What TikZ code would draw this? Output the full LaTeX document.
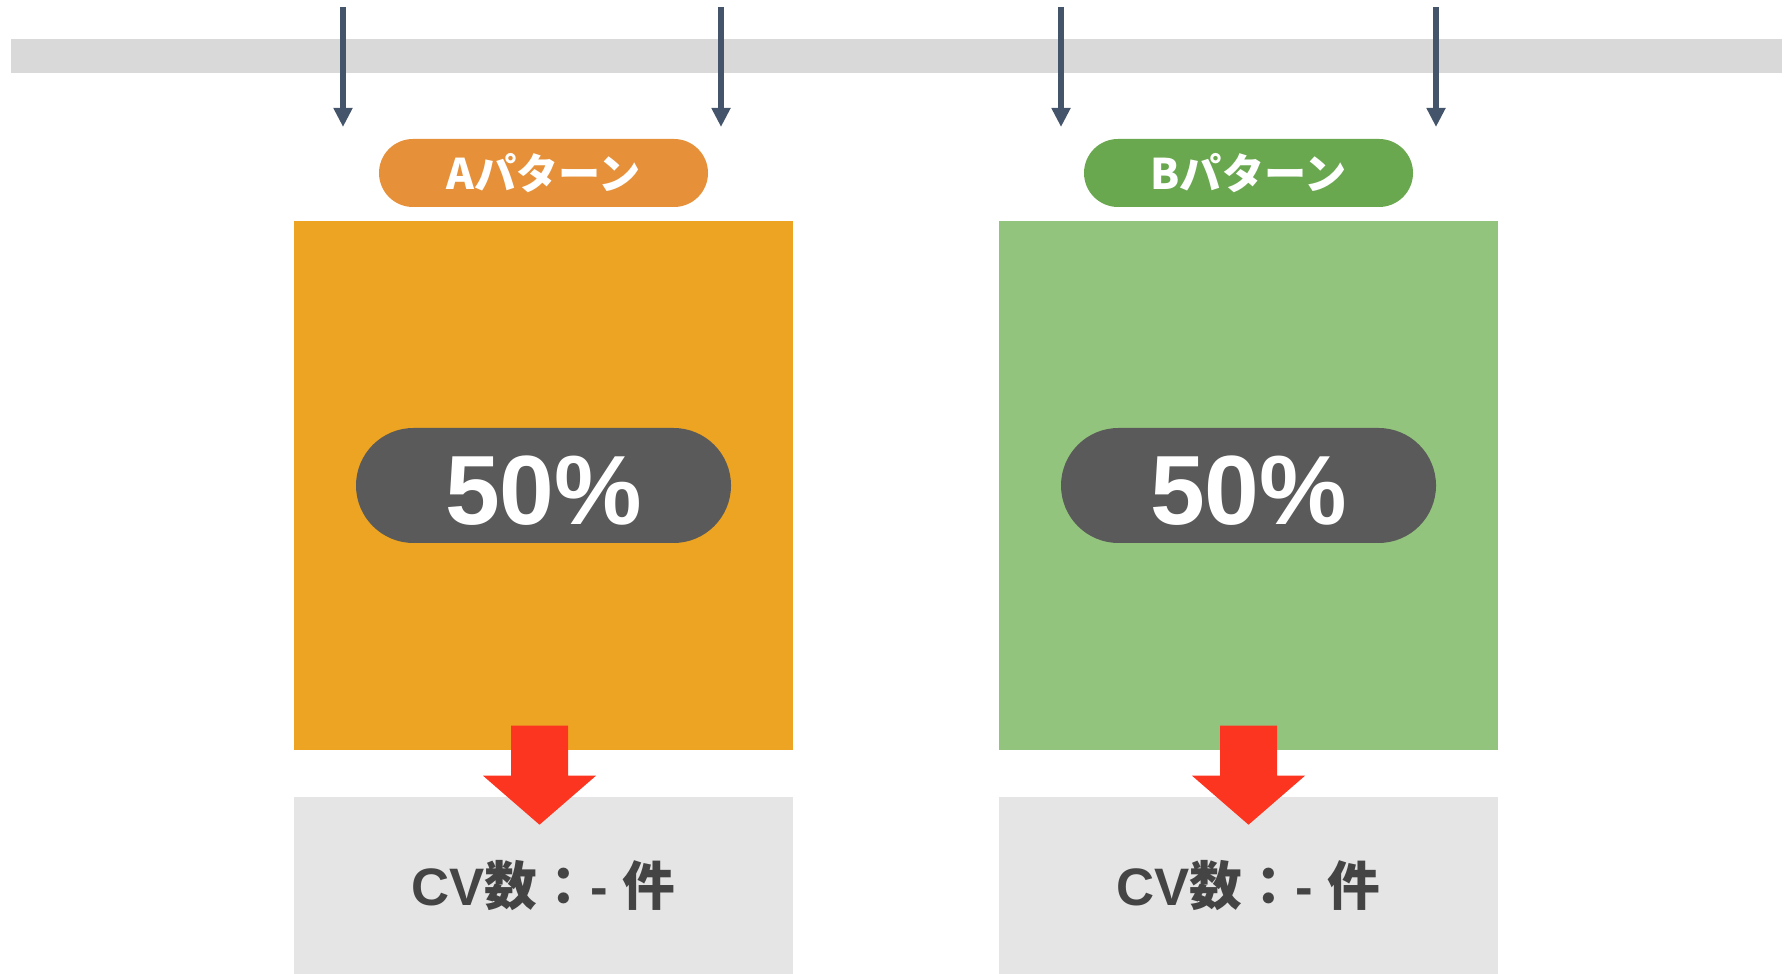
\documentclass[tikz,border=0pt]{standalone}
\usepackage{fontspec}
\setmainfont{Liberation Sans}
\newfontfamily\jpfont{Noto Sans CJK JP}
\usepackage{tikz}
\usetikzlibrary{calc}
\usetikzlibrary{arrows.meta}
\usetikzlibrary{positioning}
\definecolor{bandgray}{HTML}{D9D9D9}
\definecolor{tickblue}{HTML}{44546A}
\definecolor{tagorange}{HTML}{E6913A}
\definecolor{boxorange}{HTML}{ECA422}
\definecolor{taggreen}{HTML}{6AA84F}
\definecolor{boxgreen}{HTML}{93C47D}
\definecolor{rategray}{HTML}{5A5A5A}
\definecolor{flowred}{HTML}{FC3520}
\definecolor{cvgray}{HTML}{E5E5E5}
\definecolor{cvtext}{HTML}{444444}
\newcommand{\jp}[1]{{\jpfont\bfseries #1}}
\tikzset{>={Triangle[width=0.18cm, length=0.19cm]}}
\tikzstyle{split} = [->, draw=tickblue, line width=1.7pt]
\tikzstyle{tag} = [draw=none, inner sep=0, rounded corners=0.34cm, minimum width=3.29cm, minimum height=0.68cm, text=white, font=\jpfont\bfseries\fontsize{12}{12}\selectfont]
\tikzstyle{pattern} = [draw=none, inner sep=0, minimum width=4.99cm, minimum height=5.29cm]
\tikzstyle{rate} = [draw=none, fill=rategray, inner sep=0, rounded corners=0.575cm, minimum width=3.75cm, minimum height=1.15cm, text height=0.79cm, text depth=0cm, text=white, font=\bfseries\fontsize{28}{28}\selectfont]
\tikzstyle{cv} = [draw=none, fill=cvgray, inner sep=0, minimum width=4.99cm, minimum height=1.77cm, text=cvtext, font=\bfseries\fontsize{15}{15}\selectfont]
\tikzstyle{flow} = [fill=flowred]

\begin{document}
\begin{tikzpicture}
\useasboundingbox (0,0) rectangle (17.91,9.73);
\fill [bandgray] (0.11,9.00) rectangle (17.82,9.34);

%\node (band) at (8.965,9.17) {};
\coordinate (s1) at (3.43,9.66);  \coordinate (e1) at (3.43,8.46);
\coordinate (s2) at (7.21,9.66);  \coordinate (e2) at (7.21,8.46);
\coordinate (s3) at (10.61,9.66); \coordinate (e3) at (10.61,8.46);
\coordinate (s4) at (14.36,9.66); \coordinate (e4) at (14.36,8.46);
\draw [split] (s1) to (e1);
\draw [split] (s2) to (e2);
\draw [split] (s3) to (e3);
\draw [split] (s4) to (e4);

\node [tag, fill=tagorange] (tagA) at (5.435,8.00) {Aパターン};
\node [tag, fill=taggreen]  (tagB) at (12.485,8.00) {Bパターン};

\node [pattern, fill=boxorange] (boxA) at (5.435,4.875) {};
\node [pattern, fill=boxgreen]  (boxB) at (12.485,4.875) {};

\node [rate] (rateA) at (boxA.center) {50\%};
\node [rate] (rateB) at (boxB.center) {50\%};

\node [cv, anchor=north] (cvA) at (5.435,1.77) {CV\jp{数：}- \jp{件}};
\node [cv, anchor=north] (cvB) at (12.485,1.77) {CV\jp{数：}- \jp{件}};

\fill [flow, shift={(boxA.south)}] (-0.325,0.25) -- (0.245,0.25) -- (0.245,-0.25) -- (0.525,-0.25) -- (-0.04,-0.74) -- (-0.605,-0.25) -- (-0.325,-0.25) -- cycle;
\fill [flow, shift={(boxB.south)}] (-0.285,0.25) -- (0.285,0.25) -- (0.285,-0.25) -- (0.565,-0.25) -- (0,-0.74) -- (-0.565,-0.25) -- (-0.285,-0.25) -- cycle;
\end{tikzpicture}
\end{document}
